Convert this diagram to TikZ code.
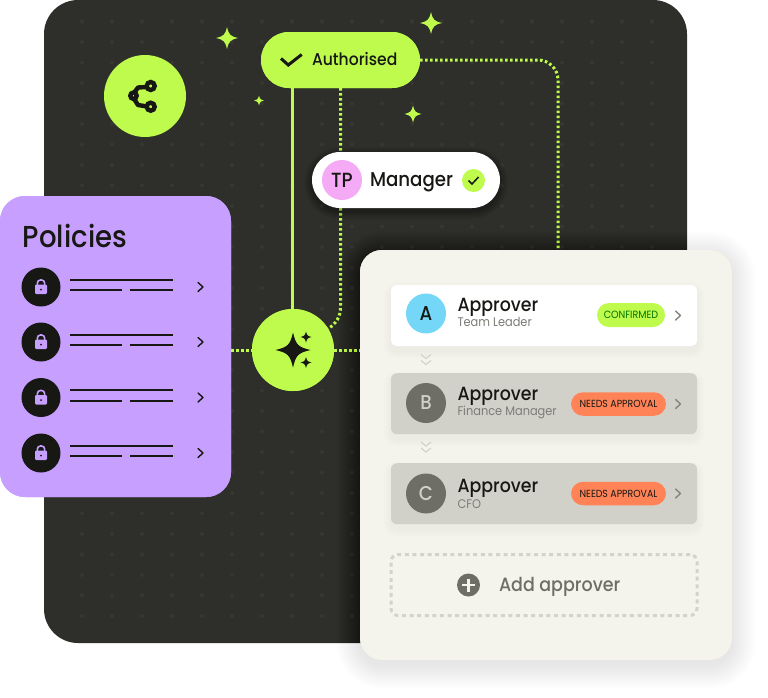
\documentclass[tikz,border=0pt]{standalone}
\usepackage{fontspec}
\setmainfont{Poppins}[UprightFont=* Medium,FakeStretch=0.91]
\newfontfamily\regfont{Poppins}[FakeStretch=0.91]
\definecolor{panelc}{HTML}{2E2F2A}
\definecolor{gridc}{HTML}{363732}
\definecolor{limec}{HTML}{BEFB4C}
\definecolor{purplec}{HTML}{C69FFF}
\definecolor{cardc}{HTML}{F4F3EC}
\definecolor{inkc}{HTML}{171714}
\definecolor{rowc}{HTML}{D2D1C9}
\definecolor{discc}{HTML}{6E6D66}
\definecolor{orangec}{HTML}{FF8356}
\definecolor{pinkc}{HTML}{F5AAF5}
\definecolor{bluec}{HTML}{74D7F7}
\definecolor{subc}{HTML}{7C7C76}
\definecolor{chevc}{HTML}{85857E}
\definecolor{dashc}{HTML}{D4D3CB}
\tikzset{
  x=1pt,y=-1pt,
  boxn/.style={inner sep=0,outer sep=0,rectangle},
  disc/.style={inner sep=0,outer sep=0,circle,minimum size=#1},
  txt/.style={inner sep=0,outer sep=0,anchor=base west,text=inkc},
  solidline/.style={draw=limec,line width=3pt},
  dotline/.style={draw=limec,line width=3pt,dash pattern=on 2.6pt off 2.4pt},
  rule/.style={draw=inkc,line width=2pt},
  chev/.style={line width=1.4pt,line cap=round,line join=round},
}
\newcommand{\sparkle}[4][limec]{\fill[#1] (#2,#3-#4) .. controls (#2+.16*#4,#3-.3*#4) and (#2+.3*#4,#3-.16*#4) .. (#2+#4,#3)
  .. controls (#2+.3*#4,#3+.16*#4) and (#2+.16*#4,#3+.3*#4) .. (#2,#3+#4)
  .. controls (#2-.16*#4,#3+.3*#4) and (#2-.3*#4,#3+.16*#4) .. (#2-#4,#3)
  .. controls (#2-.3*#4,#3-.16*#4) and (#2-.16*#4,#3-.3*#4) .. cycle;}
\newcommand{\softshadow}[7]{% x0 y0 x1 y1 radius steps opacity
  \foreach \k in {1,...,#6}{\fill[black,opacity=#7,rounded corners=#5+\k] (#1-\k,#2-\k+5) rectangle (#3+\k,#4+\k+5);}}
\newcommand{\lockicon}[2]{%
  \draw[purplec,line width=1.6pt,rounded corners=3pt] (#1-3.6,#2) -- (#1-3.6,#2-7) -- (#1+3.6,#2-7) -- (#1+3.6,#2);
  \fill[purplec,rounded corners=1.2pt] (#1-6,#2-2.5) rectangle (#1+6,#2+7);
  \fill[inkc] (#1,#2+2.5) circle (1);}
\newcommand{\rulegroup}[1]{%
  \draw[rule] (70,#1-7.5) -- (173,#1-7.5);
  \draw[rule] (70,#1+3) -- (122,#1+3);
  \draw[rule] (130,#1+3) -- (173,#1+3);
  \draw[draw=inkc,chev] (198,#1-4.5) -- (203,#1) -- (198,#1+4.5);}
\newcommand{\dblchev}[2]{%
  \draw[draw=dashc,line width=1.2pt] (#1-5,#2-5) -- (#1,#2-1) -- (#1+5,#2-5);
  \draw[draw=dashc,line width=1.2pt] (#1-5,#2+1) -- (#1,#2+5) -- (#1+5,#2+1);}
\begin{document}
\begin{tikzpicture}
\useasboundingbox (0,0) rectangle (768,697);
\fill[white] (0,0) rectangle (768,697);
% dark panel
\node[boxn,fill=panelc,rounded corners=34pt,minimum width=643pt,minimum height=643pt] (panel) at (365.5,321.5) {};
\begin{scope}
\clip (60,15) rectangle (672,628);
\foreach \i in {0,...,20}{\foreach \j in {0,...,30}{
  \fill[gridc] (52+30*\i,42+20.5*\j) circle (2);
  \fill[gridc] (52+30*\i,21.5) circle (2);
}}
\end{scope}
% connectors
\node[boxn,fill=limec,rounded corners=28pt,minimum width=159pt,minimum height=56pt] (auth) at (340.5,60) {};
\node[disc=82pt,fill=limec] (star) at (293,350) {};
\node[disc=82pt,fill=limec] (share) at (145,96) {};
\node[boxn,fill=purplec,rounded corners=25pt,minimum width=231pt,minimum height=301pt] (policies) at (115.5,346.5) {};
\node[boxn,fill=cardc,rounded corners=22pt,minimum width=372pt,minimum height=410pt] (card) at (546,455) {};
\coordinate (a1) at (292,88);
\coordinate (a2) at (292,310);
\coordinate (b1) at (340.5,88);
\coordinate (b2) at (340.5,306);
\coordinate (c1) at (558,60);
\coordinate (c2) at (558,250);
\draw[solidline] (a1) -- (a2);
\draw[dotline] (b1) -- (b2) .. controls (340.5,318) and (336,323) .. (star.31);
\draw[dotline,rounded corners=20pt] (auth.east) -- (c1) -- (c2);
\draw[dotline] (star.west -| policies.east) -- (star.west);
\draw[dotline] (star.east) -- (star.east -| card.west);
% redraw filled shapes on top of connectors
\node[disc=82pt,fill=limec] at (star) {};
\node[boxn,fill=limec,rounded corners=28pt,minimum width=159pt,minimum height=56pt] at (auth) {};
\node[txt,font=\fontsize{17.1}{18}\selectfont] (authtext) at (312,65.5) {Authorised};
\draw[inkc,line width=3pt] (281,58.5) -- (288.3,65) -- (301.7,54.5);
% sparkles
\sparkle{227}{38}{11}
\sparkle{431}{23}{11}
\sparkle{259}{100.5}{5}
\sparkle{413}{114}{8.5}
% share icon
\draw[inkc,line width=4.4pt,line join=round] (147,87) -- (138,87.5) -- (132,95.7) -- (138,105) -- (147,106.5);
\draw[inkc,line width=4.4pt,fill=limec] (150.7,86) circle (4);
\draw[inkc,line width=4.4pt,fill=limec] (150.7,106.7) circle (4);
\draw[inkc,line width=4.4pt,fill=limec] (133.5,95.7) circle (3.2);
% star icon
\sparkle[inkc]{293}{350}{17.5}
\sparkle[inkc]{306}{337}{5.5}
\sparkle[inkc]{306}{362.5}{5.5}
% manager pill
\foreach \k in {1,...,8}{\fill[black,opacity=.03,rounded corners=28pt+\k] (312-\k,152-\k+3) rectangle (500+\k,208+\k+3);}
\node[boxn,fill=white,rounded corners=28pt,minimum width=188pt,minimum height=56pt] (manager) at (406,180) {};
\node[disc=40pt,fill=pinkc,text=inkc,font=\fontsize{20.5}{21}\selectfont] (tp) at (342,180) {TP};
\node[txt,font=\fontsize{20}{21}\selectfont] (mantext) at (370,186.5) {Manager};
\node[disc=23pt,fill=limec] (mancheck) at (473.5,180.5) {};
\draw[inkc,line width=1.5pt] (468.5,180.5) -- (472,184) -- (478.5,177);
% policies panel
\node[boxn,fill=purplec,rounded corners=25pt,minimum width=231pt,minimum height=301pt] at (policies) {};
\node[txt,font=\fontsize{30.3}{32}\selectfont] (poltitle) at (23,247) {Policies};
\foreach \n/\y in {1/287,2/342,3/397.5,4/453}{
  \node[disc=39pt,fill=inkc] (lock\n) at (41,\y) {};
  \lockicon{41}{\y}
  \rulegroup{\y}
}
% card
\softshadow{360}{250}{732}{660}{22}{24}{.003}
\node[boxn,fill=cardc,rounded corners=22pt,minimum width=372pt,minimum height=410pt] at (card) {};
% rows
\softshadow{391}{285}{697}{346}{6}{8}{.004}
\softshadow{391}{373.5}{697}{434}{6}{8}{.004}
\softshadow{391}{463.5}{697}{524}{6}{8}{.004}
\node[boxn,fill=white,rounded corners=6pt,minimum width=306pt,minimum height=61pt] (rowa) at (544,315.5) {};
\node[boxn,fill=rowc,rounded corners=6pt,minimum width=306pt,minimum height=61pt] (rowb) at (544,403.7) {};
\node[boxn,fill=rowc,rounded corners=6pt,minimum width=306pt,minimum height=61pt] (rowc) at (544,493.7) {};
\node[disc=40pt,fill=bluec,text=inkc,font=\fontsize{20}{21}\selectfont] (da) at (426,313.5) {A};
\node[disc=40pt,fill=discc,text=rowc,font=\fontsize{20}{21}\selectfont] (db) at (426,403) {B};
\node[disc=40pt,fill=discc,text=rowc,font=\fontsize{20}{21}\selectfont] (dc) at (426,493.5) {C};
\node[txt,font=\fontsize{19.1}{20}\selectfont] (ta) at (457.5,311.5) {Approver};
\node[txt,font=\fontsize{19.1}{20}\selectfont] (tb) at (457.5,400.5) {Approver};
\node[txt,font=\fontsize{19.1}{20}\selectfont] (tc) at (457.5,492) {Approver};
\node[txt,text=subc,font=\regfont\fontsize{12.5}{13}\selectfont] (sa) at (457.5,326.5) {Team Leader};
\node[txt,text=subc,font=\regfont\fontsize{12.5}{13}\selectfont] (sb) at (457.5,415.5) {Finance Manager};
\node[txt,text=subc,font=\regfont\fontsize{12.5}{13}\selectfont] (sc) at (457.5,508.5) {CFO};
\node[boxn,fill=limec,rounded corners=12pt,minimum width=68pt,minimum height=24pt] (ba) at (631,315) {};
\node[font=\regfont\fontsize{10.5}{11}\selectfont,text=green!45!black,inner sep=0] (bat) at (ba) {CONFIRMED};
\node[boxn,fill=orangec,rounded corners=12pt,minimum width=95pt,minimum height=23.5pt] (bb) at (618.5,404) {};
\node[font=\regfont\fontsize{10.3}{11}\selectfont,text=inkc,inner sep=0] (bbt) at (bb) {NEEDS APPROVAL};
\node[boxn,fill=orangec,rounded corners=12pt,minimum width=95pt,minimum height=23.5pt] (bc) at (618.5,493.5) {};
\node[font=\regfont\fontsize{10.3}{11}\selectfont,text=inkc,inner sep=0] (bct) at (bc) {NEEDS APPROVAL};
\foreach \y in {315.5,404,493.5}{\draw[draw=chevc,chev] (675.5,\y-4.5) -- (680.5,\y) -- (675.5,\y+4.5);}
\dblchev{426}{359.5}
\dblchev{426}{447}
% add approver
\node[boxn,draw=dashc,line width=3pt,dash pattern=on 4pt off 3.6pt,rounded corners=7pt,minimum width=306pt,minimum height=61pt] (addbox) at (544,585) {};
\node[disc=23pt,fill=discc] (plus) at (468.5,585) {};
\draw[cardc,line width=2.2pt] (462,585) -- (475,585) (468.5,578.5) -- (468.5,591.5);
\node[txt,text=discc,font=\fontsize{19.2}{20}\selectfont] (addtext) at (499,591) {Add approver};
\end{tikzpicture}
\end{document}
